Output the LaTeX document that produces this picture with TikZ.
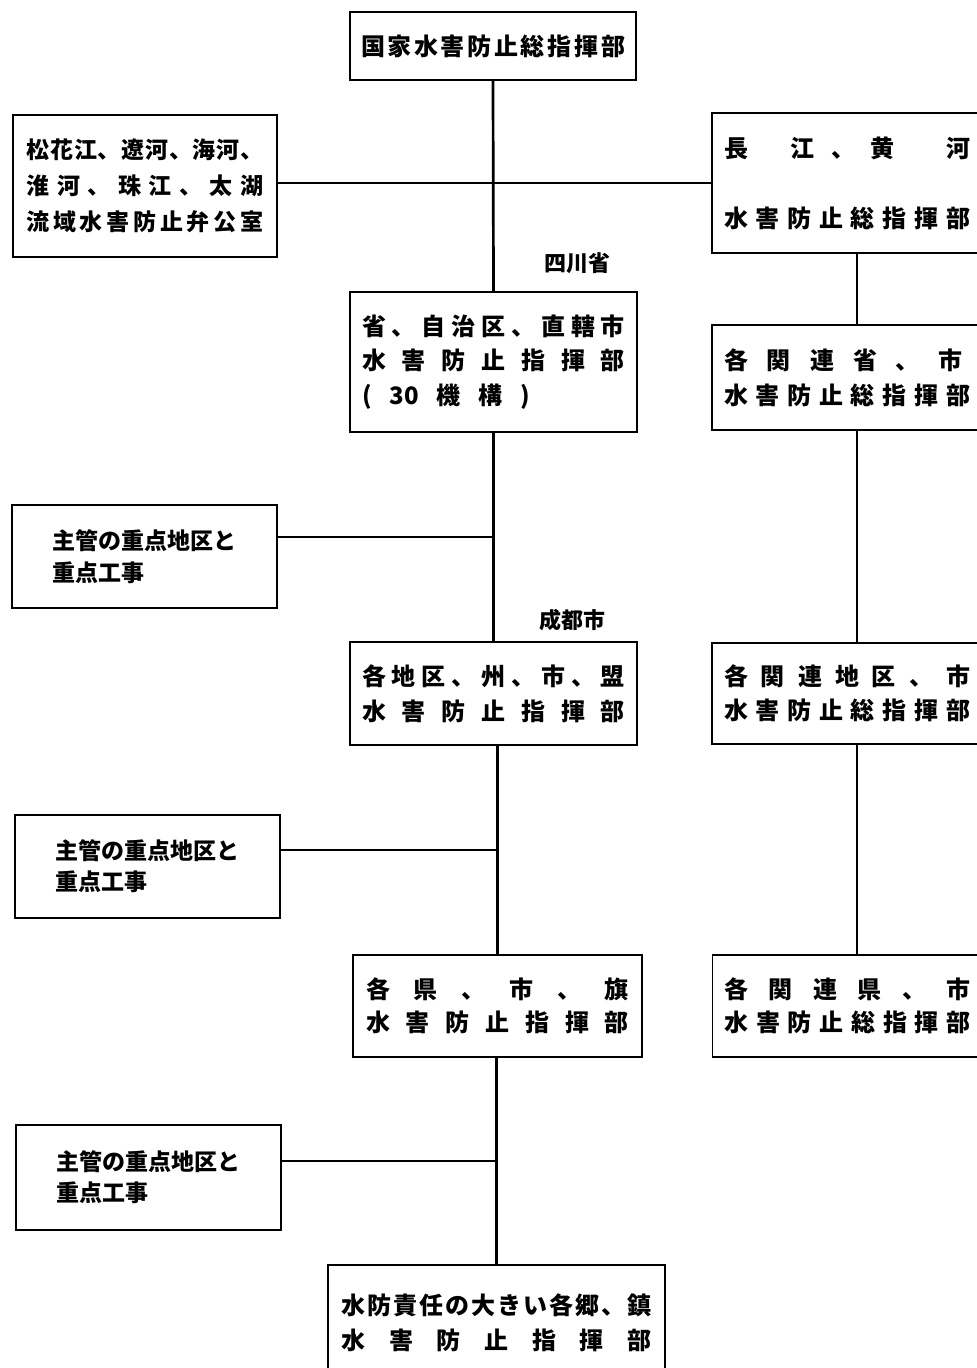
\documentclass[tikz,border=0pt]{standalone}
\usepackage{fontspec}
\newfontfamily\jp{Noto Sans CJK JP}
\begin{document}
\begin{tikzpicture}[x=1pt,y=-1pt,
  box/.style={draw,line width=1.7pt,inner sep=0pt,font=\jp\bfseries\fontsize{24}{24}\selectfont},
  sbox/.style={box,font=\jp\bfseries\fontsize{23}{23}\selectfont},
  lbl/.style={inner sep=0pt,font=\jp\bfseries\fontsize{22}{22}\selectfont},
  trunk/.style={line width=2.7pt},
  branch/.style={line width=1.2pt}]
\clip (0,0) rectangle (977,1368);
\fill[white] (0,0) rectangle (977,1368);
% top
\node[box,minimum width=286pt,minimum height=68pt] (top) at (493,46)
 {\hbox to 264pt{国\hfill 家\hfill 水\hfill 害\hfill 防\hfill 止\hfill 総\hfill 指\hfill 揮\hfill 部}};
% left top
\node[sbox,minimum width=264pt,minimum height=142pt] (lt) at (145,186)
 {\vbox{\baselineskip=36pt
  \hbox to 237pt{松\hfill 花\hfill 江\hfill 、\hfill 遼\hfill 河\hfill 、\hfill 海\hfill 河\hfill 、}
  \hbox to 237pt{淮\hfill 河\hfill 、\hfill 珠\hfill 江\hfill 、\hfill 太\hfill 湖}
  \hbox to 237pt{流\hfill 域\hfill 水\hfill 害\hfill 防\hfill 止\hfill 弁\hfill 公\hfill 室}}};
% right top
\node[box,minimum width=270pt,minimum height=140pt] (rt) at (847,183)
 {\vbox{\baselineskip=70pt
  \hbox to 246pt{長\hskip43pt 江\hskip16pt 、\hskip15pt 黄\hfill 河}
  \hbox to 246pt{水\hfill 害\hfill 防\hfill 止\hfill 総\hfill 指\hfill 揮\hfill 部}}};
% province
\node[lbl] (sc) at (577,263) {四川省};
\node[box,minimum width=287pt,minimum height=140pt] (sh) at (493.5,362)
 {\vbox{\baselineskip=34.5pt
  \hbox to 263pt{省\hfill 、\hfill 自\hfill 治\hfill 区\hfill 、\hfill 直\hfill 轄\hfill 市}
  \hbox to 263pt{水\hfill 害\hfill 防\hfill 止\hfill 指\hfill 揮\hfill 部}
  \hbox to 263pt{\hbox to 168pt{(\hfill 30\hfill 機\hfill 構\hfill )}\hfill}}};
\node[box,minimum width=270pt,minimum height=105pt] (rs) at (847,377.5)
 {\vbox{\baselineskip=35pt
  \hbox to 246pt{\hbox to 239pt{各\hfill 関\hfill 連\hfill 省\hfill 、\hfill 市}\hfill}
  \hbox to 246pt{水\hfill 害\hfill 防\hfill 止\hfill 総\hfill 指\hfill 揮\hfill 部}}};
% level 1 left
\node[sbox,minimum width=265pt,minimum height=103pt] (l1) at (144.5,556.5)
 {\vbox{\baselineskip=32pt
  \hbox to 184pt{主管の重点地区と\hfill}
  \hbox to 184pt{重点工事\hfill}}};
% city
\node[lbl] (cdl) at (572,620) {成都市};
\node[box,minimum width=287pt,minimum height=103pt] (cd) at (493.5,693.5)
 {\vbox{\baselineskip=35pt
  \hbox to 263pt{各\hfill 地\hfill 区\hfill 、\hfill 州\hfill 、\hfill 市\hfill 、\hfill 盟}
  \hbox to 263pt{水\hfill 害\hfill 防\hfill 止\hfill 指\hfill 揮\hfill 部}}};
\node[box,minimum width=270pt,minimum height=101pt] (rd) at (847,693.5)
 {\vbox{\baselineskip=34pt
  \hbox to 246pt{各\hfill 関\hfill 連\hfill 地\hfill 区\hfill 、\hfill 市}
  \hbox to 246pt{水\hfill 害\hfill 防\hfill 止\hfill 総\hfill 指\hfill 揮\hfill 部}}};
% level 2 left
\node[sbox,minimum width=265pt,minimum height=103pt] (l2) at (147.5,866.5)
 {\vbox{\baselineskip=31pt
  \hbox to 184pt{主管の重点地区と\hfill}
  \hbox to 184pt{重点工事\hfill}}};
% county
\node[box,minimum width=289pt,minimum height=102pt] (kk) at (497.5,1006)
 {\vbox{\baselineskip=33pt
  \hbox to 263pt{各\hfill 県\hfill 、\hfill 市\hfill 、\hfill 旗}
  \hbox to 263pt{水\hfill 害\hfill 防\hfill 止\hfill 指\hfill 揮\hfill 部}}};
\node[box,minimum width=270pt,minimum height=102pt] (rk) at (847.5,1006)
 {\vbox{\baselineskip=33pt
  \hbox to 246pt{各\hfill 関\hfill 連\hfill 県\hfill 、\hfill 市}
  \hbox to 246pt{水\hfill 害\hfill 防\hfill 止\hfill 総\hfill 指\hfill 揮\hfill 部}}};
% level 3 left
\node[sbox,minimum width=265pt,minimum height=105pt] (l3) at (148.5,1177.5)
 {\vbox{\baselineskip=31pt
  \hbox to 184pt{主管の重点地区と\hfill}
  \hbox to 184pt{重点工事\hfill}}};
% bottom
\node[box,minimum width=337pt,minimum height=115pt] (bt) at (496.5,1322.5)
 {\vbox{\baselineskip=35pt
  \hbox to 310pt{水\hfill 防\hfill 責\hfill 任\hfill の\hfill 大\hfill き\hfill い\hfill 各\hfill 郷\hfill 、\hfill 鎮}
  \hbox to 310pt{水\hfill 害\hfill 防\hfill 止\hfill 指\hfill 揮\hfill 部}}};
% junctions on trunk
\coordinate (j1) at (493,537);
\coordinate (j2) at (497,850);
\coordinate (j3) at (497,1161);
% trunk
\draw[trunk] (top.south) -- (sh.north);
\draw[trunk] (sh.south) -- (cd.north);
\draw[trunk] (kk.north) -- (kk.north |- cd.south);
\draw[trunk] (bt.north) -- (bt.north |- kk.south);
% right column
\draw[trunk,line width=2.4pt] ([xshift=10pt]rt.south) -- ([xshift=10pt]rs.north);
\draw[trunk,line width=2.4pt] ([xshift=10pt]rs.south) -- ([xshift=10pt]rd.north);
\draw[trunk,line width=2.4pt] ([xshift=10pt]rd.south) -- ([xshift=9.5pt]rk.north);
% branches
\draw[branch] (lt.east |- rt.west) -- (rt.west);
\draw[branch] (l1.east |- j1) -- (j1);
\draw[branch] (l2.east |- j2) -- (j2);
\draw[branch] (l3.east |- j3) -- (j3);
\end{tikzpicture}
\end{document}
